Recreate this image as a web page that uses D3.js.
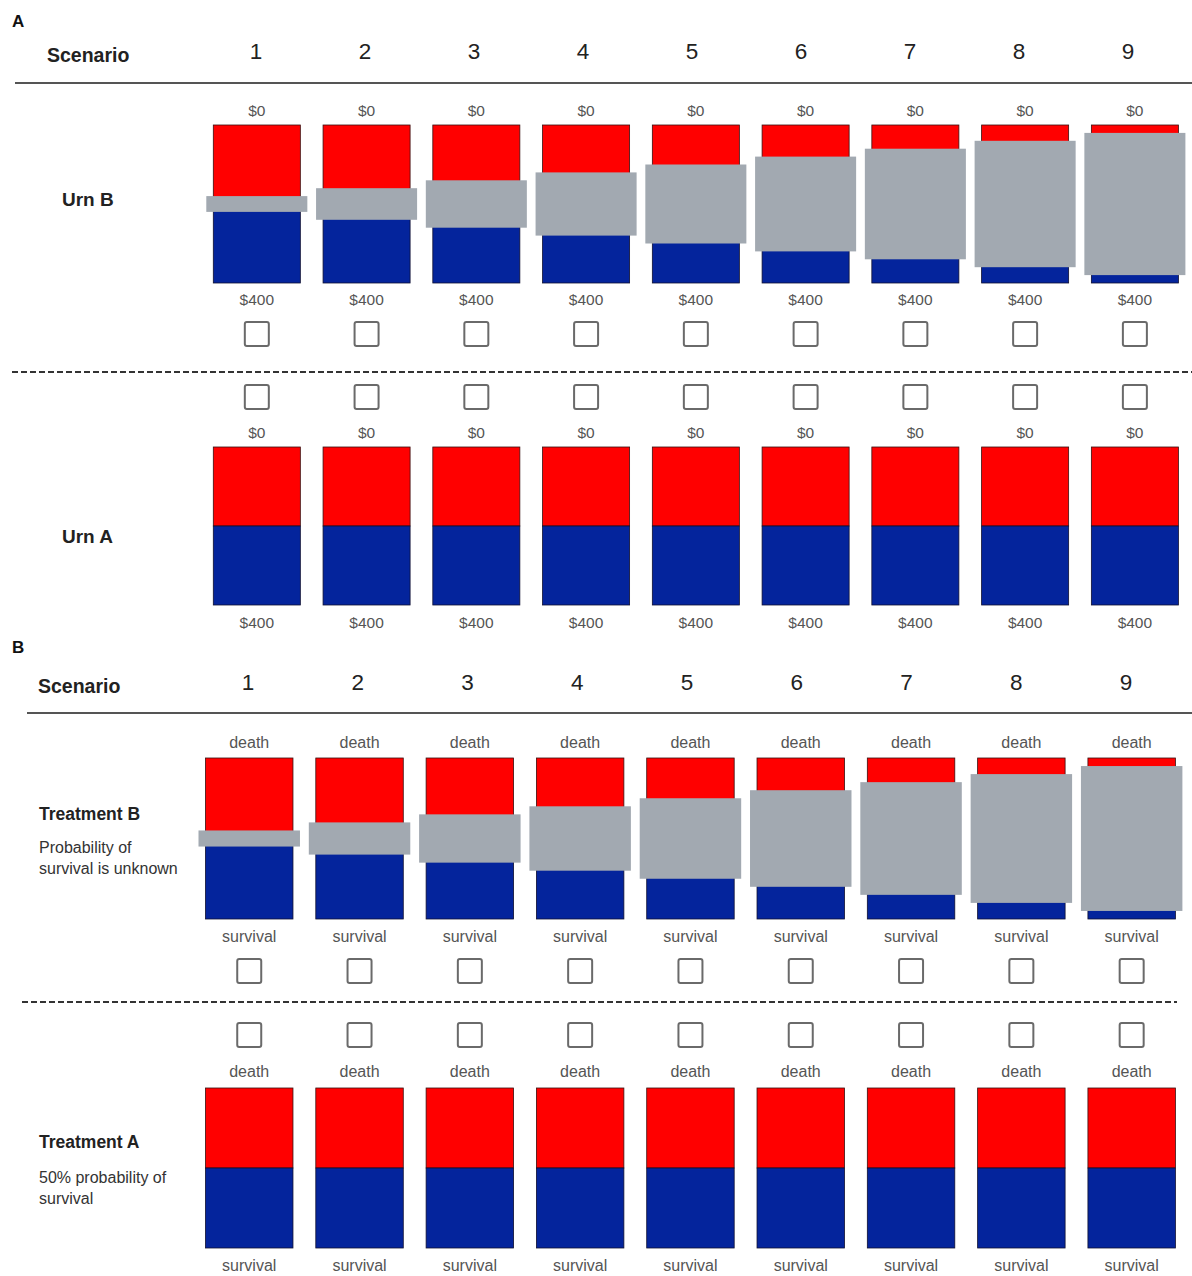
<!DOCTYPE html>
<html><head><meta charset="utf-8">
<script src="https://cdn.jsdelivr.net/npm/d3@7"></script>
<style>body{margin:0;background:#fff} svg{display:block}</style>
</head><body><svg id="c" width="1192" height="1276"></svg>
<script>
// ---------- data ----------
const scenarios = ["1","2","3","4","5","6","7","8","9"];
// width (in % of the urn) of the grey "unknown" band of Urn B / Treatment B
const ambiguityWidth = [10,20,30,40,50,60,70,80,90];
// centre of the unknown band (% from top)
const ambiguityCenter = [50,50,50,50,50,50,50,50,50];
// share of red (top outcome) in Urn B / Treatment B before masking
const redShareB = [50,50,50,50,50,50,50,50,50];
// share of red (top outcome) in Urn A / Treatment A
const redShareA = [50,50,50,50,50,50,50,50,50];
const panelLetters = ["A","B"];
const headerLabel = "Scenario";
const outcomesA = ["$0","$400"];
const outcomesB = ["death","survival"];
const rowLabelsA = ["Urn B","Urn A"];
const rowLabelsB = ["Treatment B","Treatment A"];
const rowNotesB = [["Probability of","survival is unknown"],["50% probability of","survival"]];

// ---------- style ----------
const FONT = "'Liberation Sans', Arial, sans-serif";
const RED = "#ff0000", BLUE = "#04249c", GREY = "#a2a9b1";
const svg = d3.select("#c");

function drawPanel(cfg){
  const g = svg.append("g");
  const x = d3.scaleBand().domain(scenarios).range(cfg.barRange).paddingInner(cfg.pad).paddingOuter(0);
  const xn = d3.scalePoint().domain(scenarios).range(cfg.numRange);

  g.append("text").attr("x",12).attr("y",cfg.letterY).text(cfg.letter)
    .attr("font-family",FONT).attr("font-weight","bold").attr("font-size",17).attr("fill","#111");
  g.append("text").attr("x",cfg.scenarioX).attr("y",cfg.headerY+3).text(headerLabel)
    .attr("font-family",FONT).attr("font-weight","bold").attr("font-size",19.5).attr("fill","#222");
  g.selectAll("text.num").data(scenarios).join("text").attr("class","num")
    .attr("x",d=>xn(d)).attr("y",cfg.headerY).attr("text-anchor","middle").text(d=>d)
    .attr("font-family",FONT).attr("font-size",22.5).attr("fill","#222");
  g.append("line").attr("x1",cfg.lineX[0]).attr("x2",cfg.lineX[1]).attr("y1",cfg.lineY).attr("y2",cfg.lineY)
    .attr("stroke","#555").attr("stroke-width",2);
  g.append("line").attr("x1",cfg.dashX[0]).attr("x2",cfg.dashX[1]).attr("y1",cfg.dashY).attr("y2",cfg.dashY)
    .attr("stroke","#333").attr("stroke-width",2).attr("stroke-dasharray","6,3");

  cfg.rows.forEach(row=>{
    const y = d3.scaleLinear().domain([0,100]).range([row.top,row.bottom]);
    const data = scenarios.map((s,i)=>({s, red:row.red[i], amb:row.amb?row.amb[i]:0, c:row.amb?row.center[i]:0}));
    const rg = g.append("g");
    rg.selectAll("rect.red").data(data).join("rect")
      .attr("x",d=>x(d.s)).attr("width",x.bandwidth())
      .attr("y",y(0)).attr("height",d=>y(d.red)-y(0))
      .attr("fill",RED).attr("stroke","#3a1010").attr("stroke-width",0.8);
    rg.selectAll("rect.blue").data(data).join("rect")
      .attr("x",d=>x(d.s)).attr("width",x.bandwidth())
      .attr("y",d=>y(d.red)).attr("height",d=>y(100)-y(d.red))
      .attr("fill",BLUE).attr("stroke","#101030").attr("stroke-width",0.8);
    if(row.amb){
      const ov = 7;
      rg.selectAll("rect.grey").data(data).join("rect")
        .attr("x",d=>x(d.s)-ov).attr("width",x.bandwidth()+2*ov)
        .attr("y",d=>y(d.c-d.amb/2)).attr("height",d=>y(d.c+d.amb/2)-y(d.c-d.amb/2))
        .attr("fill",GREY);
    }
    rg.selectAll("text.top").data(data).join("text")
      .attr("x",d=>x(d.s)+x.bandwidth()/2).attr("y",row.topLabelY).attr("text-anchor","middle")
      .text(cfg.outcomes[0]).attr("font-family",FONT).attr("font-size",cfg.outSize).attr("fill","#555");
    rg.selectAll("text.bot").data(data).join("text")
      .attr("x",d=>x(d.s)+x.bandwidth()/2).attr("y",row.botLabelY).attr("text-anchor","middle")
      .text(cfg.outcomes[1]).attr("font-family",FONT).attr("font-size",cfg.outSize).attr("fill","#555");
    rg.selectAll("rect.box").data(data).join("rect")
      .attr("x",d=>x(d.s)+x.bandwidth()/2-12).attr("y",row.boxY).attr("width",24).attr("height",24)
      .attr("rx",2).attr("fill","#fff").attr("stroke","#6a6a6a").attr("stroke-width",2);
    rg.append("text").attr("x",cfg.rowLabelX).attr("y",row.labelY).text(row.label)
      .attr("font-family",FONT).attr("font-weight","bold").attr("font-size",cfg.rowLabelSize).attr("fill","#222");
    (row.notes||[]).forEach((t,k)=>{
      rg.append("text").attr("x",cfg.rowLabelX).attr("y",row.noteY[k]).text(t)
        .attr("font-family",FONT).attr("font-size",16).attr("fill","#333");
    });
  });
}

drawPanel({
  letter: panelLetters[0], letterY: 27, scenarioX: 47, headerY: 59,
  numRange: [256,1128], barRange: [213.3,1178.4], pad: 0.207,
  lineY: 83, lineX: [15,1192], dashY: 372, dashX: [12,1192],
  outcomes: outcomesA, outSize: 15.5, rowLabelX: 62, rowLabelSize: 19,
  rows: [
    {label: rowLabelsA[0], labelY: 206, top:125, bottom:283, red: redShareB, amb: ambiguityWidth, center: ambiguityCenter,
     topLabelY:116, botLabelY:305, boxY:322},
    {label: rowLabelsA[1], labelY: 543, top:447, bottom:605, red: redShareA,
     topLabelY:438, botLabelY:628, boxY:385}
  ]
});

drawPanel({
  letter: panelLetters[1], letterY: 653, scenarioX: 38, headerY: 690,
  numRange: [248,1126], barRange: [205.5,1175.4], pad: 0.207,
  lineY: 713, lineX: [27,1192], dashY: 1002, dashX: [22,1177],
  outcomes: outcomesB, outSize: 16, rowLabelX: 39, rowLabelSize: 17.5,
  rows: [
    {label: rowLabelsB[0], labelY: 820, notes: rowNotesB[0], noteY:[853,874],
     top:758, bottom:919, red: redShareB, amb: ambiguityWidth, center: ambiguityCenter,
     topLabelY:748, botLabelY:942, boxY:959},
    {label: rowLabelsB[1], labelY: 1148, notes: rowNotesB[1], noteY:[1183,1204],
     top:1088, bottom:1248, red: redShareA,
     topLabelY:1077, botLabelY:1271, boxY:1023}
  ]
});
</script></body></html>
